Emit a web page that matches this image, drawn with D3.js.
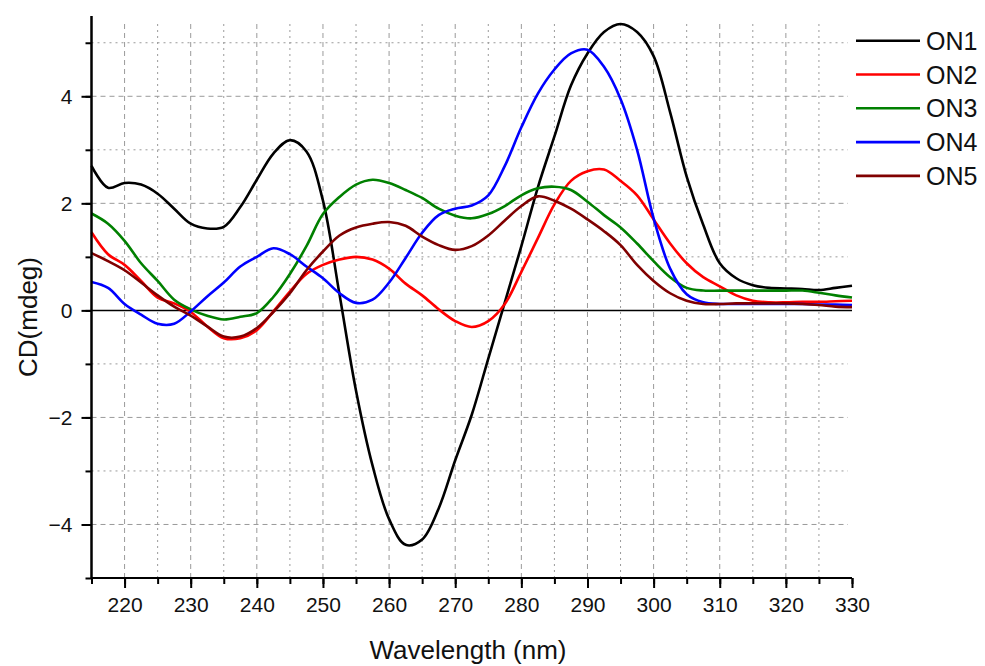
<!DOCTYPE html>
<html lang="en">
<head>
    <meta charset="UTF-8">
    <title>CD spectra</title>
    <script src="https://d3js.org/d3.v7.min.js"></script>
    <style>
        body { margin: 0; background: #fff; }
        text { font-family: Arial, "Liberation Sans", sans-serif; fill: #111; }
        .grid line { stroke: #9a9a9a; stroke-width: 1; }
    </style>
</head>
<body>
    <svg width="985" height="666"></svg>
    <script>
        // wavelengths (nm), sampled every 2.5 nm
        const wavelength = d3.range(215, 330.01, 2.5);

        const on1 = [2.70, 2.29, 2.38, 2.35, 2.18, 1.90, 1.62, 1.53, 1.56, 1.93, 2.44, 2.93, 3.18, 2.97, 2.05, 0.30,
            -1.50, -2.90, -3.90, -4.38, -4.28, -3.70, -2.80, -1.95, -0.90, 0.15, 1.20, 2.30, 3.25, 4.20, 4.80, 5.20,
            5.35, 5.20, 4.75, 3.70, 2.50, 1.60, 0.88, 0.60, 0.47, 0.42, 0.41, 0.40, 0.38, 0.42, 0.46];
        const on2 = [1.46, 1.05, 0.85, 0.55, 0.24, 0.13, -0.03, -0.30, -0.52, -0.52, -0.37, -0.02, 0.35, 0.68, 0.85, 0.95,
            1.00, 0.95, 0.78, 0.50, 0.28, 0.02, -0.20, -0.31, -0.20, 0.12, 0.72, 1.35, 1.98, 2.42, 2.60, 2.63,
            2.42, 2.15, 1.70, 1.25, 0.88, 0.62, 0.45, 0.28, 0.18, 0.15, 0.15, 0.16, 0.16, 0.17, 0.18];
        const on3 = [1.81, 1.62, 1.30, 0.88, 0.55, 0.20, 0.02, -0.10, -0.17, -0.12, -0.05, 0.25, 0.68, 1.20, 1.80, 2.12,
            2.35, 2.44, 2.38, 2.25, 2.10, 1.90, 1.77, 1.72, 1.80, 1.95, 2.15, 2.28, 2.31, 2.25, 2.03, 1.78,
            1.55, 1.25, 0.92, 0.62, 0.42, 0.37, 0.37, 0.37, 0.37, 0.37, 0.37, 0.37, 0.33, 0.28, 0.24];
        const on4 = [0.53, 0.42, 0.12, -0.08, -0.25, -0.25, -0.02, 0.26, 0.52, 0.82, 1.00, 1.16, 1.05, 0.82, 0.60, 0.32,
            0.14, 0.20, 0.52, 0.98, 1.45, 1.78, 1.90, 1.96, 2.15, 2.70, 3.42, 4.05, 4.50, 4.80, 4.87, 4.55,
            3.95, 3.00, 1.72, 0.78, 0.30, 0.15, 0.12, 0.12, 0.12, 0.12, 0.12, 0.12, 0.11, 0.11, 0.10];
        const on5 = [1.07, 0.92, 0.75, 0.52, 0.28, 0.07, -0.10, -0.30, -0.49, -0.49, -0.33, -0.03, 0.32, 0.75, 1.10, 1.40,
            1.55, 1.62, 1.65, 1.58, 1.38, 1.22, 1.13, 1.20, 1.40, 1.68, 1.95, 2.13, 2.05, 1.90, 1.70, 1.48,
            1.22, 0.85, 0.55, 0.32, 0.18, 0.12, 0.12, 0.13, 0.13, 0.13, 0.13, 0.12, 0.10, 0.07, 0.06];

        const seriesNames = ["ON1", "ON2", "ON3", "ON4", "ON5"];
        const seriesColors = ["#000000", "#ff0000", "#008000", "#0000ff", "#800000"];
        const xTicks = d3.range(220, 331, 10);
        const yTicks = [-4, -2, 0, 2, 4];

        const series = [on1, on2, on3, on4, on5].map((vals, i) => ({
            name: seriesNames[i],
            color: seriesColors[i],
            values: vals.map((v, j) => ({x: wavelength[j], y: v}))
        }));

        const svg = d3.select("svg");
        const x = d3.scaleLinear().domain([215, 330]).range([91.5, 852]);
        const y = d3.scaleLinear().domain([-5, 5.5]).range([578, 16]);

        // grid lines: dashed on major, dotted on minor
        const grid = svg.append("g").attr("class", "grid");
        grid.selectAll(".vg")
            .data(d3.range(220, 326, 5))
            .enter().append("line")
            .attr("x1", d => x(d)).attr("x2", d => x(d))
            .attr("y1", y(-5)).attr("y2", y(5.5) + 4)
            .attr("stroke-dasharray", d => d % 10 === 0 ? "5,4" : "2,4");
        grid.selectAll(".hg")
            .data(d3.range(-4, 5.1, 1).filter(d => d !== 0))
            .enter().append("line")
            .attr("x1", x(215)).attr("x2", x(330) - 4)
            .attr("y1", d => y(d)).attr("y2", d => y(d))
            .attr("stroke-dasharray", d => d % 2 === 0 ? "5,4" : "2,4");

        // zero line
        svg.append("line")
            .attr("x1", x(215)).attr("x2", x(330))
            .attr("y1", y(0)).attr("y2", y(0))
            .attr("stroke", "#000").attr("stroke-width", 1.5);

        const line = d3.line()
            .x(d => x(d.x))
            .y(d => y(d.y))
            .curve(d3.curveCatmullRom.alpha(0.5));

        svg.append("g")
            .selectAll("path")
            .data(series)
            .enter().append("path")
            .attr("fill", "none")
            .attr("stroke", d => d.color)
            .attr("stroke-width", 2.6)
            .attr("stroke-linejoin", "round")
            .attr("d", d => line(d.values));

        // axes
        const xAxis = svg.append("g")
            .attr("transform", `translate(0,${y(-5)})`);
        xAxis.append("g")
            .call(d3.axisBottom(x).tickValues(d3.range(215, 331, 5)).tickSize(6).tickFormat(""));
        xAxis.append("g")
            .call(d3.axisBottom(x).tickValues(xTicks).tickSize(10).tickPadding(9).tickFormat(d3.format("d")));
        xAxis.selectAll("text").attr("font-size", 21).attr("fill", "#111");

        const yAxis = svg.append("g")
            .attr("transform", `translate(${x(215)},0)`);
        yAxis.append("g")
            .call(d3.axisLeft(y).tickValues(d3.range(-5, 5.1, 1)).tickSize(6).tickFormat(""));
        yAxis.append("g")
            .call(d3.axisLeft(y).tickValues(yTicks).tickSize(10).tickPadding(9).tickFormat(d3.format("d")));
        yAxis.selectAll("text").attr("font-size", 21).attr("fill", "#111");

        svg.selectAll(".domain").attr("stroke", "#000").attr("stroke-width", 2);
        svg.selectAll(".tick line").attr("stroke", "#000").attr("stroke-width", 2);
        xAxis.selectAll(".domain").attr("d", `M${x(215)},0H${x(330)}`);
        yAxis.selectAll(".domain").attr("d", `M0,${y(5.5)}V${y(-5)}`);

        // axis titles
        svg.append("text")
            .attr("x", 468).attr("y", 659)
            .attr("text-anchor", "middle")
            .attr("font-size", 26)
            .text("Wavelength (nm)");
        svg.append("text")
            .attr("transform", "translate(37,317) rotate(-90)")
            .attr("text-anchor", "middle")
            .attr("font-size", 26)
            .text("CD(mdeg)");

        // legend
        const legend = svg.append("g")
            .selectAll("g")
            .data(series)
            .enter().append("g")
            .attr("transform", (d, i) => `translate(856,${40.7 + i * 33.8})`);
        legend.append("line")
            .attr("x1", 0).attr("x2", 64)
            .attr("stroke", d => d.color)
            .attr("stroke-width", 2.6);
        legend.append("text")
            .attr("x", 70).attr("y", 9)
            .attr("font-size", 25)
            .text(d => d.name);
    </script>
</body>
</html>
